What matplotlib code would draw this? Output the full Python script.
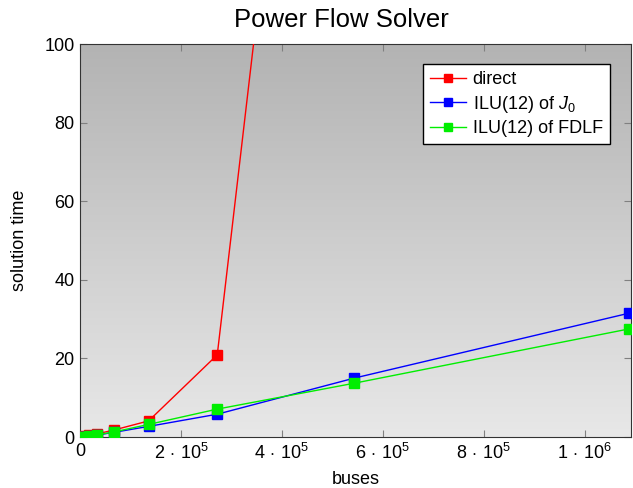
import numpy as np
import matplotlib
matplotlib.use("Agg")
import matplotlib.pyplot as plt

plt.rcParams["font.family"] = ["Liberation Sans", "DejaVu Sans"]
plt.rcParams["mathtext.fontset"] = "custom"
plt.rcParams["mathtext.rm"] = "Liberation Sans"
plt.rcParams["mathtext.it"] = "Liberation Sans:italic"

buses = [4250, 8500, 17000, 34000, 68000, 136000, 272000, 544000, 1088000]
direct = [0.1, 0.2, 0.4, 0.8, 1.8, 4.1, 20.9, 320]
ilu_j0 = [0.05, 0.1, 0.2, 0.5, 1.2, 2.7, 5.8, 15.0, 31.5]
ilu_fdlf = [0.05, 0.1, 0.25, 0.55, 1.3, 3.2, 7.1, 13.7, 27.5]
xtick_vals = [0, 2e5, 4e5, 6e5, 8e5, 1e6]
xtick_labels = ["0", r"$2\,\cdot\,10^{5}$", r"$4\,\cdot\,10^{5}$", r"$6\,\cdot\,10^{5}$",
                r"$8\,\cdot\,10^{5}$", r"$1\,\cdot\,10^{6}$"]

fig = plt.figure(figsize=(6.33, 4.88), dpi=100)
ax = fig.add_axes([0.1264, 0.1045, 0.8704, 0.8053])

grad = np.linspace(0, 1, 256).reshape(-1, 1)
ax.imshow(grad, extent=[0, 1, 0, 1], transform=ax.transAxes, aspect="auto",
          cmap=matplotlib.colors.LinearSegmentedColormap.from_list("bg", ["#b3b3b3", "#e8e8e8"]),
          origin="upper", zorder=0)

ax.plot(buses[:len(direct)], direct, color="red", marker="s", markersize=6.5, lw=1, label="direct", zorder=3)
ax.plot(buses, ilu_j0, color="blue", marker="s", markersize=6.5, lw=1, label="ILU(12) of $J_0$", zorder=3)
ax.plot(buses, ilu_fdlf, color="#00ee00", marker="s", markersize=6.5, lw=1, label="ILU(12) of FDLF", zorder=3)

ax.set_xlim(0, 1.092e6)
ax.set_ylim(0, 100)
ax.set_xticks(xtick_vals)
ax.set_xticklabels(xtick_labels)
ax.set_yticks([0, 20, 40, 60, 80, 100])
ax.tick_params(direction="in", length=5, color="#808080", labelsize=13,
               top=True, right=True, pad=4)
for s in ax.spines.values():
    s.set_color("#333333")

fig.text(341 / 633, 1 - 27 / 488, "Power Flow Solver", fontsize=18.5, ha="center", va="baseline")
ax.set_xlabel("buses", fontsize=13, labelpad=6)
ax.set_ylabel("solution time", fontsize=13, labelpad=12)

leg = ax.legend(loc="upper right", bbox_to_anchor=(0.962, 0.949), fontsize=13,
                fancybox=False, framealpha=1, edgecolor="black", markerscale=0.85,
                handlelength=2.0, handletextpad=0.35, borderpad=0.4, labelspacing=0.3,
                borderaxespad=0)
leg.get_frame().set_linewidth(1)

fig.savefig("out.png", dpi=100)
